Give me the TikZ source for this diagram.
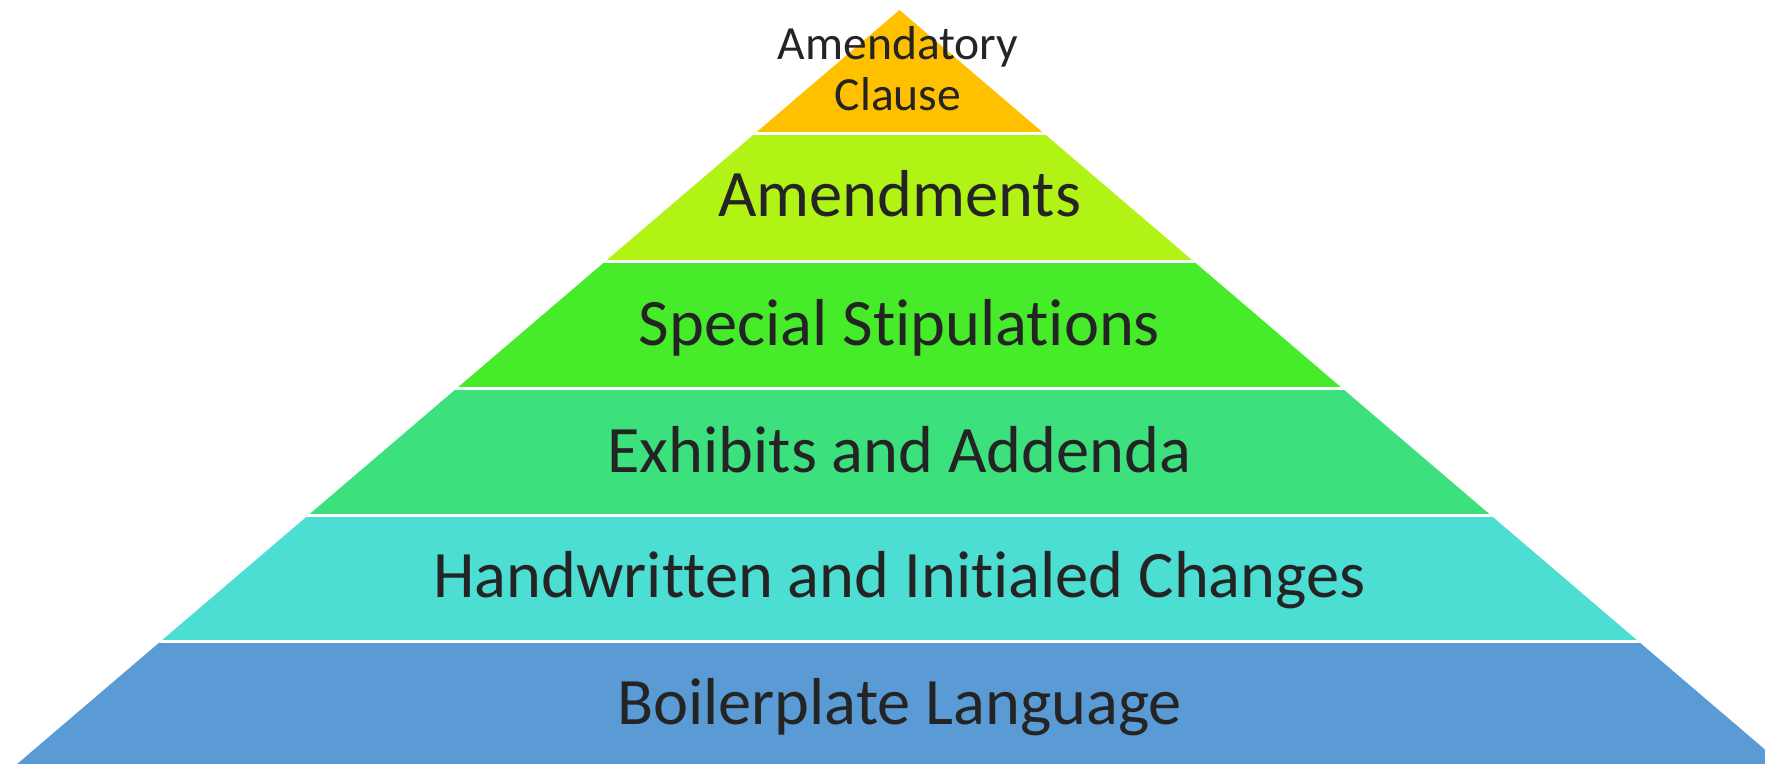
\documentclass[tikz,border=0pt]{standalone}
\usepackage{fontspec}
\setmainfont{Carlito}[Ligatures=NoCommon]
\usetikzlibrary{positioning}

\definecolor{clause}{HTML}{FFC000}
\definecolor{amend}{HTML}{B2F316}
\definecolor{stip}{HTML}{46EB29}
\definecolor{exhib}{HTML}{3CE07C}
\definecolor{handw}{HTML}{4CDDD3}
\definecolor{boiler}{HTML}{5B9BD5}
\definecolor{ink}{HTML}{242424}

\tikzset{
  % one storey of the pyramid
  level/.style={text=ink, anchor=base, font=\fontsize{33.2}{40}\selectfont},
  tip/.style={text=ink, align=center, font=\fontsize{23.8}{25.5}\selectfont},
  x=0.5pt, y=-0.5pt
}

\begin{document}
\begin{tikzpicture}
  \useasboundingbox (0,0) rectangle (1765,764);

  \begin{scope}
    \clip (899.5,10) -- (-25,800) -- (1824,800) -- cycle;
    \fill[clause] (0,0)     rectangle (1765,133.5);
    \fill[amend]  (0,133.5) rectangle (1765,261.5);
    \fill[stip]   (0,261.5) rectangle (1765,388.5);
    \fill[exhib]  (0,388.5) rectangle (1765,515.5);
    \fill[handw]  (0,515.5) rectangle (1765,641.5);
    \fill[boiler] (0,641.5) rectangle (1765,800);
    % white seams between the storeys
    \foreach \y in {133.5,261.5,388.5,515.5,641.5}
      \draw[white, line width=1.5pt] (-30,\y) -- (1830,\y);
  \end{scope}

  \node[tip] (clause) at (898,68.5) {Amendatory\\Clause};
  \node[level] (amend) at (899.5,217) {Amendments};
  \node[level] (stip) at (899.5,345) {Special Stipulations};
  \node[level] (exhib) at (899.5,472) {Exhibits and Addenda};
  \node[level] (handw) at (899.5,597) {Handwritten and Initialed Changes};
  \node[level] (boiler) at (899.5,724) {Boilerplate Language};
\end{tikzpicture}
\end{document}
